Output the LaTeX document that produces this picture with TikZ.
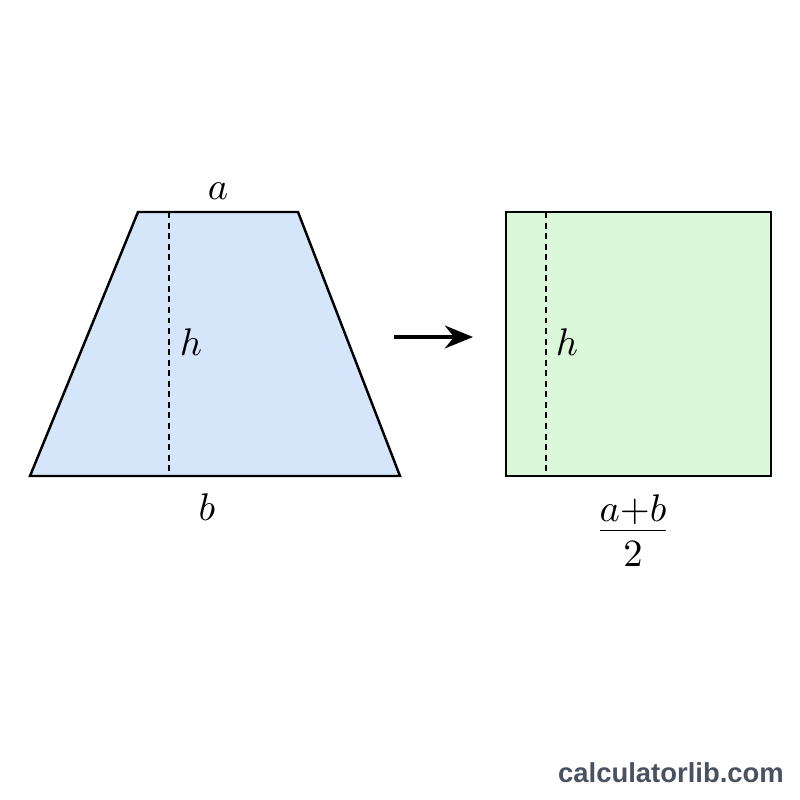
\documentclass[tikz,border=0pt]{standalone}
\usepackage{fontspec}
\newfontfamily\brandfont{Liberation Sans}
\usetikzlibrary{arrows.meta}
\definecolor{trapfill}{HTML}{D5E6FA}
\definecolor{rectfill}{HTML}{DCF8DA}
\definecolor{brandgray}{HTML}{4A5161}
% outlines of the two figures
\tikzstyle{figure edge}=[draw=black,line width=0.7pt,line join=miter]
\tikzstyle{height line}=[line width=0.5pt,dash pattern=on 1.7pt off 1.3pt]
\tikzstyle{dim text}=[font=\fontsize{11}{13}\selectfont,inner sep=1pt]

\begin{document}
\begin{tikzpicture}[x=0.01cm,y=-0.01cm]
  \useasboundingbox (0,0) rectangle (800,800);
  % trapezoid
  \coordinate (tl) at (138,212);
  \coordinate (tr) at (298,212);
  \coordinate (br) at (400,476);
  \coordinate (bl) at (30,476);
  \filldraw[figure edge,fill=trapfill] (bl) -- (br) -- (tr) -- (tl) -- cycle;
  \coordinate (ht) at (169,212);
  \coordinate (hb) at (169,476);
  \draw[height line] (ht) -- (hb);
  \node[dim text] (la) at (218,191) {$a$};
  \node[dim text] (lh) at (191,342) {$h$};
  \node[dim text] (lb) at (207,507) {$b$};
  % arrow
  \coordinate (from) at (394,337);
  \coordinate (to) at (473,337);
  \draw[line width=1.1pt,-{Stealth[length=8pt,width=6.5pt]}] (from) -- (to);
  % rectangle
  \filldraw[figure edge,fill=rectfill] (506,212) rectangle (771,476);
  \coordinate (rt) at (546,212);
  \coordinate (rb) at (546,476);
  \draw[height line] (rt) -- (rb);
  \node[dim text] (rh) at (567,342) {$h$};
  \node[dim text,font=\fontsize{16}{18}\selectfont] (rw) at (633,531) {$\frac{a+b}{2}$};
  % watermark
  \node[text=brandgray,font=\brandfont\bfseries\fontsize{7.8}{9}\selectfont,inner sep=0pt] (brand) at (671,773) {calculatorlib.com};
\end{tikzpicture}
\end{document}
